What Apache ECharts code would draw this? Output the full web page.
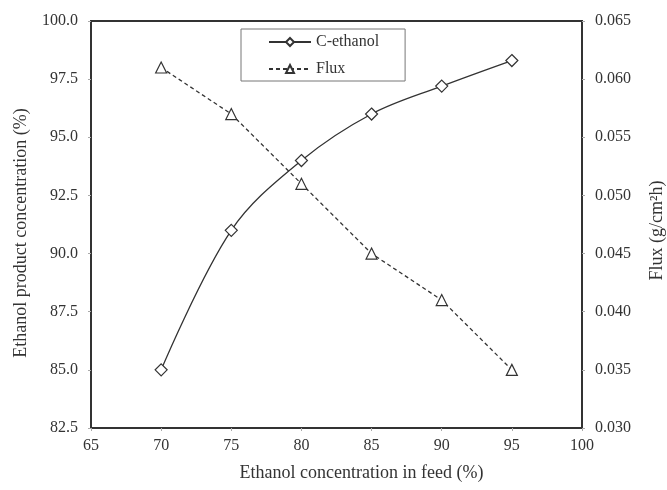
<!DOCTYPE html>
<html><head><meta charset="utf-8">
<script src="https://cdn.jsdelivr.net/npm/echarts@6/dist/echarts.min.js"></script>
<style>html,body{margin:0;padding:0;background:#fff}#c{width:667px;height:490px}</style>
</head><body><div id="c"></div>
<script>
const feed = [70, 75, 80, 85, 90, 95];
const cEthanol = [85.0, 91.0, 94.0, 96.0, 97.2, 98.3];
const flux = [0.061, 0.057, 0.051, 0.045, 0.041, 0.035];
const seriesNames = ['C-ethanol', 'Flux'];

const font = 'Liberation Serif';
const txt = '#333';
const chart = echarts.init(document.getElementById('c'));
chart.setOption({
  backgroundColor: '#fff',
  animation: false,
  textStyle: {fontFamily: font},
  grid: {left: 91, right: 85, top: 21, bottom: 62, show: true, borderColor: '#333', borderWidth: 2,
         outerBoundsMode: 'none', containLabel: false},
  legend: {
    orient: 'vertical', left: 241, top: 29,
    backgroundColor: '#fff', borderColor: '#777', borderWidth: 1, borderRadius: 0,
    padding: [5, 26, 4, 27], itemGap: 11, itemWidth: 42, itemHeight: 10,
    textStyle: {fontFamily: font, fontSize: 16, color: txt},
    data: seriesNames
  },
  xAxis: {
    type: 'value', min: 65, max: 100, interval: 5,
    name: 'Ethanol concentration in feed (%)', nameLocation: 'middle', nameGap: 36,
    nameTextStyle: {fontFamily: font, fontSize: 18, color: txt, padding: [0, 0, 0, 50]},
    axisLine: {show: true, lineStyle: {color: '#333', width: 2}},
    axisTick: {show: true, length: 3, lineStyle: {color: '#aaa'}},
    axisLabel: {fontFamily: font, fontSize: 16, color: txt, margin: 10},
    splitLine: {show: false}
  },
  yAxis: [{
    type: 'value', min: 82.5, max: 100, interval: 2.5,
    name: 'Ethanol product concentration (%)', nameLocation: 'middle', nameGap: 61,
    nameTextStyle: {fontFamily: font, fontSize: 18, color: txt, padding: [0, 17, 0, 0]},
    axisLine: {show: true, lineStyle: {color: '#333', width: 2}},
    axisTick: {show: true, length: 3, lineStyle: {color: '#aaa'}},
    axisLabel: {fontFamily: font, fontSize: 16, color: txt, margin: 13, formatter: v => v.toFixed(1)},
    splitLine: {show: false}
  }, {
    type: 'value', min: 0.030, max: 0.065, interval: 0.005, position: 'right',
    name: 'Flux (g/cm\u00B2h)', nameLocation: 'middle', nameGap: 66,
    nameTextStyle: {fontFamily: font, fontSize: 18, color: txt, padding: [0, 12, 0, 0]},
    axisLine: {show: true, lineStyle: {color: '#333', width: 2}},
    axisTick: {show: true, length: 3, lineStyle: {color: '#aaa'}},
    axisLabel: {fontFamily: font, fontSize: 16, color: txt, margin: 13, formatter: v => v.toFixed(3)},
    splitLine: {show: false}
  }],
  series: [{
    name: seriesNames[0], type: 'line', yAxisIndex: 0, smooth: 0.35,
    data: feed.map((x, i) => [x, cEthanol[i]]),
    symbol: 'diamond', symbolSize: 12,
    itemStyle: {color: '#fff', borderColor: '#333', borderWidth: 1.2},
    lineStyle: {color: '#333', width: 1.3}
  }, {
    name: seriesNames[1], type: 'line', yAxisIndex: 1,
    data: feed.map((x, i) => [x, flux[i]]),
    symbol: 'triangle', symbolSize: 11,
    itemStyle: {color: '#fff', borderColor: '#333', borderWidth: 1.2},
    lineStyle: {color: '#333', width: 1.3, type: [4, 3]}
  }]
});
</script></body></html>
